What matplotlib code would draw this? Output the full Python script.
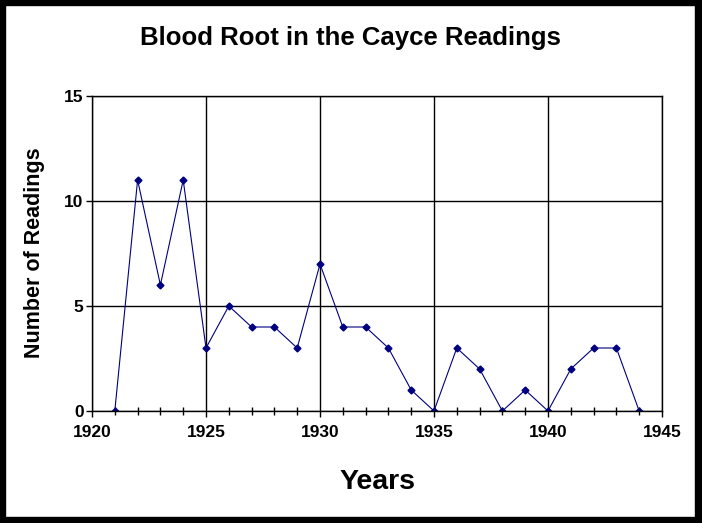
import matplotlib
matplotlib.use("Agg")
import matplotlib.pyplot as plt
from matplotlib.patches import Rectangle
from matplotlib.ticker import MultipleLocator

# data
years = list(range(1921, 1945))
readings = [0, 11, 6, 11, 3, 5, 4, 4, 3, 7, 4, 4, 3, 1, 0, 3, 2, 0, 1, 0, 2, 3, 3, 0]

x_ticks = [1920, 1925, 1930, 1935, 1940, 1945]
y_ticks = [0, 5, 10, 15]

plt.rcParams['font.family'] = ['Liberation Sans', 'DejaVu Sans']
plt.rcParams['font.weight'] = 'bold'

W, H = 702, 523
fig = plt.figure(figsize=(W / 100, H / 100), dpi=100)
fig.patch.set_facecolor('white')

ax = fig.add_axes([92 / W, 1 - 411 / H, (662 - 92) / W, (411 - 96) / H])
ax.plot(years, readings, color='#000080', linewidth=0.8,
        marker='D', markersize=3.5, markerfacecolor='#000080', markeredgecolor='#000080')

ax.set_xlim(1920, 1945)
ax.set_ylim(0, 15)
ax.set_xticks(x_ticks)
ax.set_yticks(y_ticks)
ax.xaxis.set_minor_locator(MultipleLocator(1))
ax.grid(True, which='major', color='black', linewidth=1.0)

for s in ax.spines.values():
    s.set_color('black')
    s.set_linewidth(1.0)

ax.tick_params(axis='x', which='major', direction='out', length=4, width=1,
               labelsize=12.5, pad=6)
ax.tick_params(axis='x', which='minor', direction='inout', length=6, width=1)
ax.tick_params(axis='y', which='major', direction='out', length=4, width=1,
               labelsize=12.5, pad=2)
for lbl in ax.get_xticklabels() + ax.get_yticklabels():
    lbl.set_fontweight('bold')

fig.text(350 / W, 1 - 38 / H, 'Blood Root in the Cayce Readings',
         ha='center', va='center', fontsize=18.5, fontweight='bold')
fig.text(35 / W, 1 - 253 / H, 'Number of Readings', rotation=90,
         ha='center', va='center', fontsize=15.5, fontweight='bold')
fig.text(377 / W, 1 - 482 / H, 'Years',
         ha='center', va='center', fontsize=20.5, fontweight='bold')

# black frame around the picture
for (x0, y0, w, h) in [(0, 0, 5, H), (0, 0, W, 5), (W - 7, 0, 7, H), (0, H - 6, W, 6)]:
    fig.patches.append(Rectangle((x0 / W, 1 - (y0 + h) / H), w / W, h / H,
                                 transform=fig.transFigure, color='black'))

fig.savefig('out.png', dpi=100)
